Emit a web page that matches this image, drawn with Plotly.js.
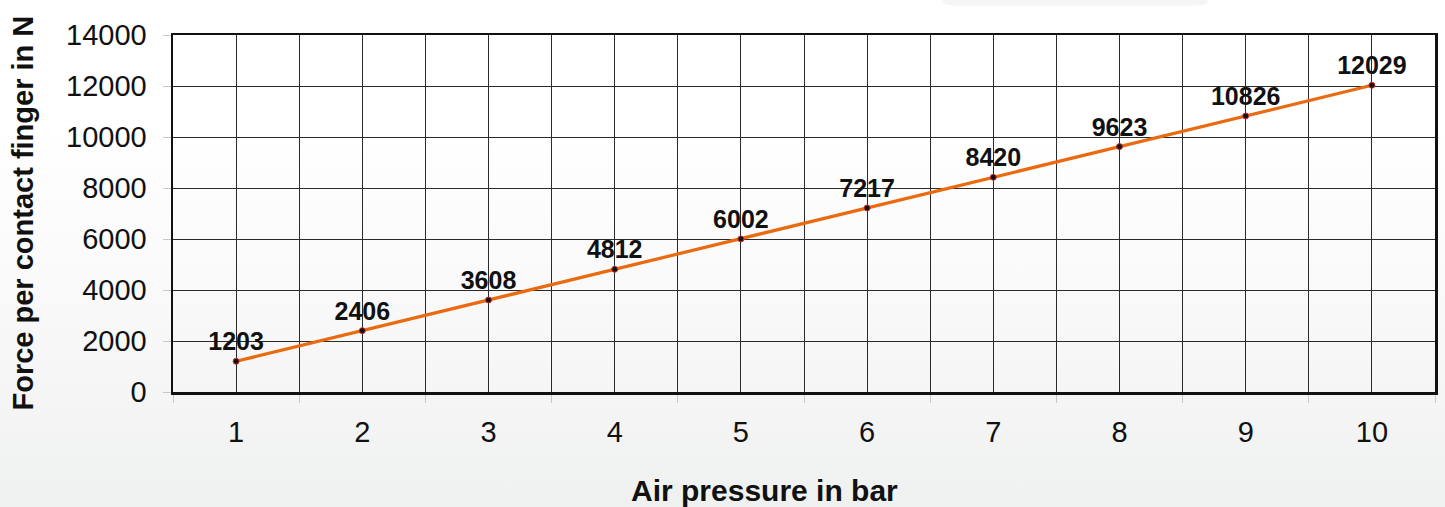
<!DOCTYPE html>
<html>
<head>
<meta charset="utf-8">
<script src="https://cdn.plot.ly/plotly-3.0.1.min.js"></script>
<style>
  html, body { margin: 0; padding: 0; }
  body { width: 1445px; height: 507px; background: linear-gradient(to bottom, #ffffff 0%, #ffffff 25%, #f7f7f7 70%, #eff0f0 100%); }
  #chart { width: 1445px; height: 507px; }
</style>
</head>
<body>
<div id="chart"></div>
<script>
const airPressure = [1, 2, 3, 4, 5, 6, 7, 8, 9, 10];
const forceValues = [1203, 2406, 3608, 4812, 6002, 7217, 8420, 9623, 10826, 12029];
const forceLabels = forceValues.map(v => String(v));
const yTickValues = [0, 2000, 4000, 6000, 8000, 10000, 12000, 14000];

const font = "Liberation Sans, Arial, Helvetica, sans-serif";

const trace = {
  x: airPressure,
  y: forceValues,
  text: forceLabels,
  type: 'scatter',
  mode: 'lines+markers+text',
  textposition: 'top center',
  textfont: { family: font, size: 25, color: '#111', weight: 'bold' },
  line: { color: '#ea6a10', width: 3.2 },
  marker: { color: '#111', size: 6, line: { color: '#d03030', width: 1 } },
  cliponaxis: false,
  hoverinfo: 'x+y'
};

const layout = {
  width: 1445,
  height: 507,
  margin: { l: 173, r: 10, t: 35, b: 115 },
  paper_bgcolor: 'rgba(0,0,0,0)',
  plot_bgcolor: 'rgba(0,0,0,0)',
  showlegend: false,
  font: { family: font, color: '#111' },
  xaxis: {
    range: [0.5, 10.5],
    tickmode: 'array',
    tickvals: airPressure,
    ticktext: airPressure.map(String),
    ticks: '',
    ticklabelstandoff: 13,
    tickfont: { family: font, size: 29, color: '#111' },
    showgrid: true,
    gridcolor: '#2a2a2a',
    gridwidth: 1,
    minor: { tickmode: 'linear', tick0: 0.5, dtick: 1, showgrid: true, gridcolor: '#2a2a2a', gridwidth: 1, ticks: 'outside', ticklen: 8, tickcolor: '#c8c8c8', tickwidth: 1 },
    showline: true,
    mirror: true,
    linecolor: '#111',
    linewidth: 2.5,
    zeroline: false,
    fixedrange: true
  },
  yaxis: {
    range: [0, 14000],
    tickmode: 'array',
    tickvals: yTickValues,
    ticktext: yTickValues.map(String),
    ticks: 'outside',
    ticklen: 8,
    tickcolor: '#c8c8c8',
    tickwidth: 1,
    ticklabelstandoff: 10,
    tickfont: { family: font, size: 29, color: '#111' },
    showgrid: true,
    gridcolor: '#2a2a2a',
    gridwidth: 1,
    showline: true,
    mirror: true,
    linecolor: '#111',
    linewidth: 2.5,
    zeroline: false,
    fixedrange: true
  },
  annotations: [
    {
      text: '<b>Air pressure in bar</b>',
      xref: 'paper', yref: 'paper',
      x: 0.469, y: 0, xanchor: 'center', yanchor: 'middle',
      yshift: -98,
      showarrow: false,
      font: { family: font, size: 30, color: '#111' }
    },
    {
      text: '<b>Force per contact finger in N</b>',
      xref: 'paper', yref: 'paper',
      x: 0, y: 0.5, xanchor: 'center', yanchor: 'middle',
      xshift: -151,
      textangle: -90,
      showarrow: false,
      font: { family: font, size: 29, color: '#111' }
    }
  ],
  shapes: [
    {
      type: 'path', xref: 'paper', yref: 'paper', layer: 'below',
      path: 'M 0.610 1.11 L 0.610 1.092 Q 0.612 1.082 0.62 1.082 L 0.81 1.082 Q 0.818 1.082 0.82 1.092 L 0.82 1.11 Z',
      fillcolor: 'rgba(0,0,0,0.04)', line: { width: 0 }
    }
  ]
};

Plotly.newPlot('chart', [trace], layout, { displayModeBar: false, staticPlot: true });
</script>
</body>
</html>
